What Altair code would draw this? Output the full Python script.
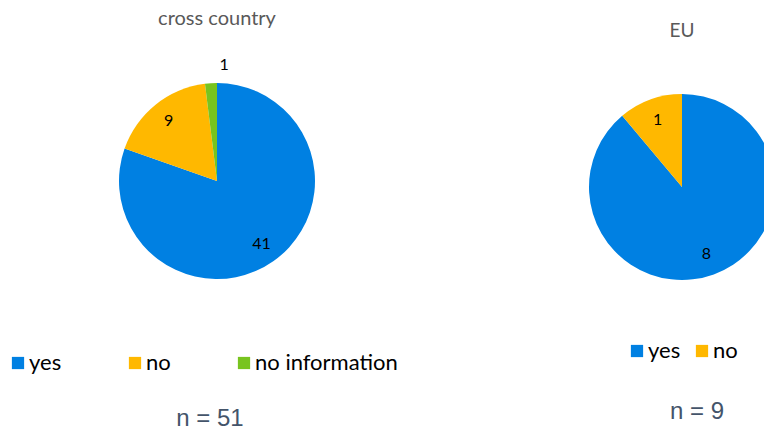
import altair as alt
import pandas as pd

# ---- data ----
cc_categories = ["yes", "no", "no information"]
cc_values = [41, 9, 1]
eu_categories = ["yes", "no"]
eu_values = [8, 1]
colors_cc = ["#0080E2", "#FFB800", "#78C41F"]
colors_eu = ["#0080E2", "#FFB800"]
titles = ["cross country", "EU"]
n_labels = ["n = 51", "n = 9"]

cc = pd.DataFrame({"category": cc_categories, "value": cc_values,
                   "idx": list(range(len(cc_values)))})
eu = pd.DataFrame({"category": eu_categories, "value": eu_values,
                   "idx": list(range(len(eu_values)))})

LABEL_FONT = "Lato"


def pie(df, cats, cols, cx, cy, r, r_in, legend_x, legend_y, col_pad, small_max=1):
    base = alt.Chart(df).encode(
        theta=alt.Theta("value:Q", stack=True),
        order=alt.Order("idx:Q"),
    )
    arc = base.mark_arc(outerRadius=r, stroke=None).encode(
        x=alt.value(cx), y=alt.value(cy),
        color=alt.Color(
            "category:N", sort=cats,
            scale=alt.Scale(domain=cats, range=cols),
            legend=alt.Legend(
                orient="none", legendX=legend_x, legendY=legend_y,
                direction="horizontal", title=None, symbolType="square",
                symbolSize=150, symbolStrokeWidth=0, labelFontSize=22,
                labelFont=LABEL_FONT, labelColor="#000000", padding=0,
                columnPadding=col_pad, labelOffset=0,
            ),
        ),
    )
    big = base.transform_filter(alt.datum.value > small_max).mark_text(
        radius=r_in, font=LABEL_FONT, fontSize=16, color="#000000"
    ).encode(x=alt.value(cx), y=alt.value(cy), text="value:Q")
    return arc, big, base


W, H = 756, 421

# left pie
arc_l, big_l, base_l = pie(cc, cc_categories, colors_cc, 209, 173, 98, 77, -1, 344, 62)
small_l = base_l.transform_filter(alt.datum.value <= 1).mark_text(
    radius=116, font=LABEL_FONT, fontSize=16, color="#000000"
).encode(x=alt.value(209), y=alt.value(173), text="value:Q")
left = alt.layer(arc_l, big_l, small_l)

# right pie: all labels inside
arc_r, big_r, base_r = pie(eu, eu_categories, colors_eu, 674, 179, 93, 71, 618, 332, 10, small_max=0)
right = alt.layer(arc_r, big_r)

tdf = pd.DataFrame({"t": titles})
title_l = alt.Chart(tdf).transform_filter(alt.datum.t == titles[0]).mark_text(
    font=LABEL_FONT, fontSize=20, color="#595959", baseline="alphabetic"
).encode(x=alt.value(209), y=alt.value(17), text="t:N")
title_r = alt.Chart(tdf).transform_filter(alt.datum.t == titles[1]).mark_text(
    font=LABEL_FONT, fontSize=19, color="#595959", baseline="alphabetic"
).encode(x=alt.value(674), y=alt.value(29), text="t:N")

ndf = pd.DataFrame({"t": n_labels})
n_l = alt.Chart(ndf).transform_filter(alt.datum.t == n_labels[0]).mark_text(
    font="Liberation Sans", fontSize=24, color="#44546A", baseline="alphabetic"
).encode(x=alt.value(202), y=alt.value(418), text="t:N")
n_r = alt.Chart(ndf).transform_filter(alt.datum.t == n_labels[1]).mark_text(
    font="Liberation Sans", fontSize=24, color="#44546A", baseline="alphabetic"
).encode(x=alt.value(689), y=alt.value(411), text="t:N")

chart = alt.layer(left, right, title_l, title_r, n_l, n_r).resolve_scale(
    color="independent", theta="independent"
).properties(
    width=W, height=H, autosize=alt.AutoSizeParams(type="none"), padding=0
).configure_view(stroke=None)

chart.save("out.html", embed_options={"renderer": "svg", "actions": False})
